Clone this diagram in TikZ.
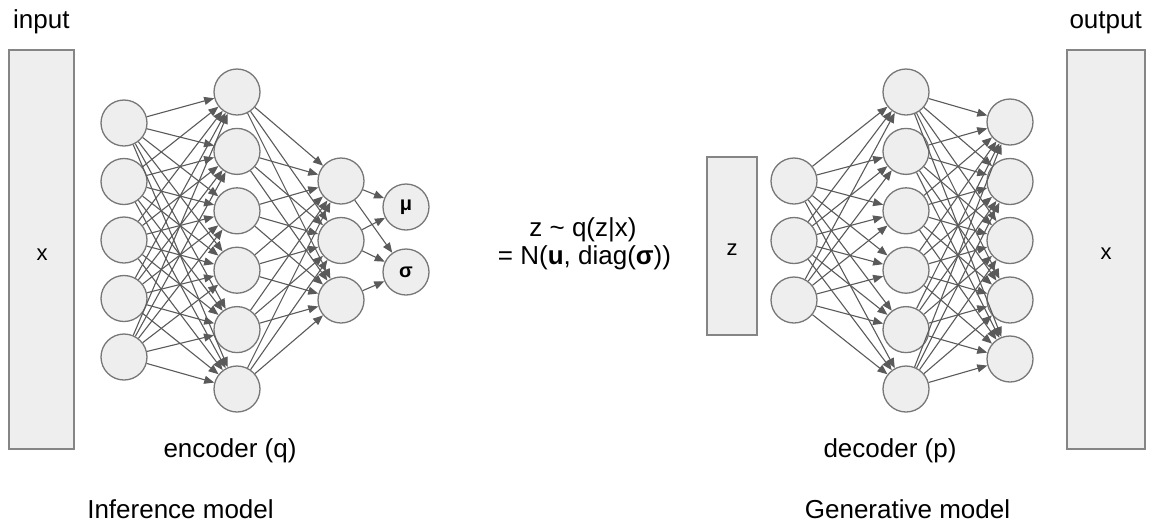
\documentclass[tikz,border=0pt]{standalone}
\usepackage{fontspec}
\setmainfont{Liberation Sans}
\usetikzlibrary{arrows.meta}
\definecolor{nodefill}{HTML}{EEEEEE}
\definecolor{nodeline}{HTML}{777777}
\definecolor{boxline}{HTML}{858585}
\definecolor{edgecol}{HTML}{5A5A5A}
\tikzset{
  neuron/.style={circle, draw=nodeline, fill=nodefill, line width=1.3pt,
                 minimum size=46pt, inner sep=0pt},
  databox/.style={draw=boxline, fill=nodefill, line width=1.3pt, inner sep=0pt},
  link/.style={draw=edgecol, line width=1.1pt, -{Triangle[length=10pt,width=8pt]}},
  lbl/.style={font=\fontsize{26}{30}\selectfont, inner sep=0pt, anchor=base},
  boxlbl/.style={font=\fontsize{22}{26}\selectfont, inner sep=0pt, anchor=base},
  greek/.style={font=\bfseries\fontsize{20}{24}\selectfont},
}
\begin{document}
\begin{tikzpicture}[x=1pt,y=-1pt]
\useasboundingbox (0,0) rectangle (1151,523);

% data boxes
\node[databox, minimum width=65pt, minimum height=399pt] (inbox) at (41.5,249.5) {};
\node[databox, minimum width=50pt, minimum height=178pt] (zbox) at (732,246) {};
\node[databox, minimum width=78pt, minimum height=399pt] (outbox) at (1106,249.5) {};
\node[boxlbl] (inx) at (42,260) {x};
\node[boxlbl] (zlab) at (732,255) {z};
\node[boxlbl] (outx) at (1106,259) {x};

% encoder layers
\foreach \i/\y in {1/123,2/181.5,3/240,4/298.5,5/357}
  \node[neuron] (ea\i) at (124,\y) {};
\foreach \i/\y in {1/92,2/151.4,3/210.8,4/270.2,5/329.6,6/389}
  \node[neuron] (eb\i) at (237,\y) {};
\foreach \i/\y in {1/181,2/240.5,3/300}
  \node[neuron] (ec\i) at (341,\y) {};
\node[neuron, greek] (mu) at (406,207) {μ};
\node[neuron, greek] (sigma) at (406,272) {σ};

% decoder layers
\foreach \i/\y in {1/181,2/240.5,3/300}
  \node[neuron] (da\i) at (794,\y) {};
\foreach \i/\y in {1/92,2/151.4,3/210.8,4/270.2,5/329.6,6/389}
  \node[neuron] (db\i) at (906,\y) {};
\foreach \i/\y in {1/122,2/181.5,3/240.5,4/300,5/359}
  \node[neuron] (dc\i) at (1010,\y) {};

% encoder connections
\foreach \i in {1,...,5}
  \foreach \j in {1,...,6}
    \draw[link] (ea\i) -- (eb\j);
\foreach \i in {1,...,6}
  \foreach \j in {1,...,3}
    \draw[link] (eb\i) -- (ec\j);
\draw[link] (ec1) -- (mu);
\draw[link] (ec1) -- (sigma);
\draw[link] (ec2) -- (mu);
\draw[link] (ec2) -- (sigma);
\draw[link] (ec3) -- (sigma);

% decoder connections
\foreach \i in {1,...,3}
  \foreach \j in {1,...,6}
    \draw[link] (da\i) -- (db\j);
\foreach \i in {1,...,6}
  \foreach \j in {1,...,5}
    \draw[link] (db\i) -- (dc\j);

% labels
\node[lbl, anchor=base west] (inlab) at (13,28) {input};
\node[lbl, anchor=base east] (outlab) at (1142,28) {output};
\node[lbl] (enclab) at (230,457) {encoder (q)};
\node[lbl] (declab) at (890,457) {decoder (p)};
\node[lbl] (inflab) at (180.5,518) {Inference model};
\node[lbl] (genlab) at (907.5,518) {Generative model};
\node[lbl] (eq1) at (583,236) {z \char`\~{} q(z|x)};
\node[lbl] (eq2) at (584.5,264) {= N(\textbf{u}, diag(\textbf{σ}))};
\end{tikzpicture}
\end{document}
